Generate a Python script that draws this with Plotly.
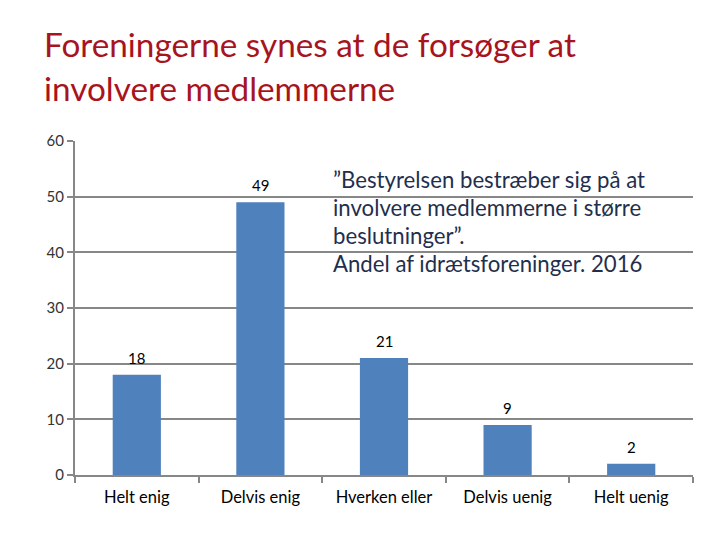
import plotly.graph_objects as go

categories = ["Helt enig", "Delvis enig", "Hverken eller", "Delvis uenig", "Helt uenig"]
values = [18, 49, 21, 9, 2]
y_ticks = [0, 10, 20, 30, 40, 50, 60]
title_lines = ["Foreningerne synes at de forsøger at", "involvere medlemmerne"]
note_lines = ["\u201dBestyrelsen bestræber sig på at",
              "involvere medlemmerne i større",
              "beslutninger\u201d.",
              "Andel af idrætsforeninger. 2016"]

FONT = "Lato"
OFF = 8  # page body margin
W, H = 704, 524
L, T = 75 - OFF, 141 - OFF
R = W - (693 - OFF)
B = H - (475 - OFF)
PH = H - T - B
PW = W - L - R

def py(p):
    return (H - B - (p - OFF)) / PH

def px(p):
    return ((p - OFF) - L) / PW

fig = go.Figure(go.Bar(
    x=categories, y=values, width=0.39,
    marker=dict(color="#4F81BD", line=dict(width=0)),
    hoverinfo="x+y",
))

ann = []
for c, v in zip(categories, values):
    ann.append(dict(text=str(v), x=c, y=v, xref="x", yref="y", yshift=17,
                    xanchor="center", yanchor="middle", showarrow=False,
                    font=dict(family=FONT, size=15, color="#000000")))
for i, t in enumerate(title_lines):
    ann.append(dict(text=t, x=px(42), y=py(44 + 44 * i), xref="paper", yref="paper",
                    xanchor="left", yanchor="middle", showarrow=False,
                    font=dict(family=FONT, size=33.3, color="#A8141E")))
for i, t in enumerate(note_lines):
    ann.append(dict(text=t, x=px(331), y=py(179 + 28.3 * i), xref="paper", yref="paper",
                    xanchor="left", yanchor="middle", showarrow=False,
                    font=dict(family=FONT, size=22.2, color="#1F2F4E")))

fig.update_layout(
    width=W, height=H,
    margin=dict(l=L, r=R, t=T, b=B, autoexpand=False),
    paper_bgcolor="white", plot_bgcolor="white",
    showlegend=False,
    annotations=ann,
    xaxis=dict(
        showline=True, linecolor="#878787", linewidth=2,
        ticks="outside", tickson="boundaries", ticklen=6, tickcolor="#878787", tickwidth=2,
        tickfont=dict(family=FONT, size=16.5, color="#000000"),
        ticklabelstandoff=6,
        showgrid=False,
    ),
    yaxis=dict(
        range=[0, 60], tickvals=y_ticks,
        showline=True, linecolor="#878787", linewidth=2,
        ticks="outside", ticklen=6, tickcolor="#878787", tickwidth=2,
        showgrid=True, gridcolor="#878787", gridwidth=2,
        zeroline=False,
        tickfont=dict(family=FONT, size=15, color="#333333"),
    ),
)

fig.write_html("out.html")
